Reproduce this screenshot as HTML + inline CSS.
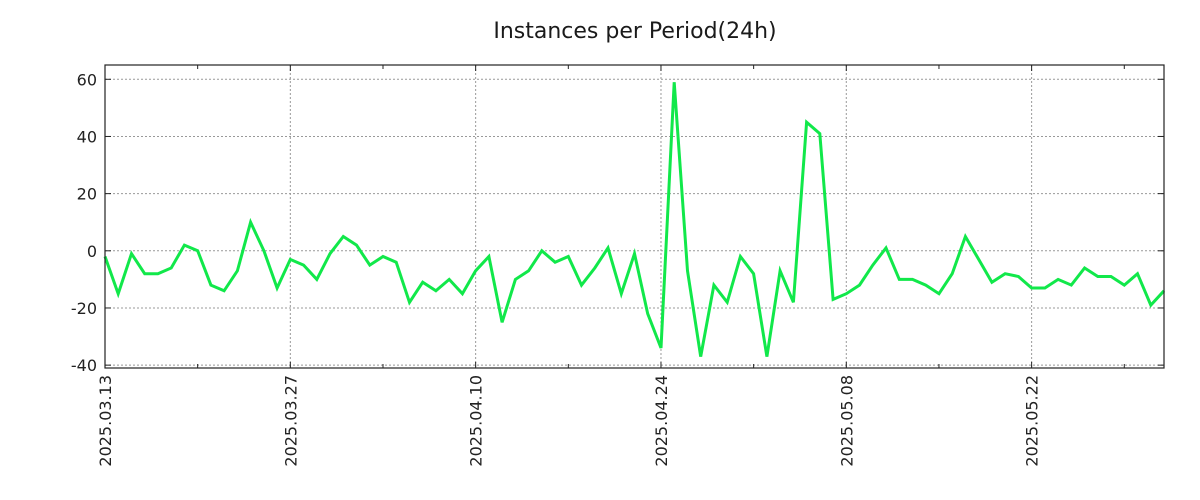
<!DOCTYPE html>
<html><head><meta charset="utf-8"><style>
body{margin:0;background:#fff;}
svg{display:block;font-family:"DejaVu Sans","Liberation Sans",sans-serif;}
</style></head><body>
<svg id="chart" width="1200" height="500">
<text x="635" y="38" text-anchor="middle" font-size="22" fill="#1a1a1a">Instances per Period(24h)</text>
<g id="grid"></g>
<g id="axes"></g>
<g id="series"></g>
<rect x="105" y="65" width="1059" height="303" fill="none" stroke="#222" stroke-width="1.2"/>
</svg>
<script>
const values=[-2,-15,-1,-8,-8,-6,2,0,-12,-14,-7,10,0,-13,-3,-5,-10,-1,5,2,-5,-2,-4,-18,-11,-14,-10,-15,-7,-2,-25,-10,-7,0,-4,-2,-12,-6,1,-15,-1,-22,-34,59,-7,-37,-12,-18,-2,-8,-37,-7,-18,45,41,-17,-15,-12,-5,1,-10,-10,-12,-15,-8,5,-3,-11,-8,-9,-13,-13,-10,-12,-6,-9,-9,-12,-8,-19,-14];
const xTickDays=[0,14,28,42,56,70];
const xTickLabels=["2025.03.13","2025.03.27","2025.04.10","2025.04.24","2025.05.08","2025.05.22"];
const yTicks=[60,40,20,0,-20,-40];
const NS="http://www.w3.org/2000/svg";
const L=105,R=1164,T=65,B=368,nDays=80,yMin=-41,yMax=65;
const xs=d=>L+(R-L)*d/nDays;
const ys=v=>B-(B-T)*(v-yMin)/(yMax-yMin);
function mk(tag,attrs,parent){const e=document.createElementNS(NS,tag);for(const k in attrs)e.setAttribute(k,attrs[k]);parent.appendChild(e);return e;}
const grid=document.getElementById('grid'),axes=document.getElementById('axes'),series=document.getElementById('series');
yTicks.forEach(v=>{
 const y=ys(v);
 const g=mk('line',{x1:L,x2:R,y1:y,y2:y,stroke:'#999','stroke-dasharray':'2,2','stroke-width':1},grid);
 
 
 mk('line',{x1:L,x2:L+6,y1:y,y2:y,stroke:'#222'},axes);
 mk('line',{x1:R-6,x2:R,y1:y,y2:y,stroke:'#222'},axes);
 const t=mk('text',{x:L-8,y:y+6,'text-anchor':'end','font-size':16,fill:'#222'},axes);
 t.textContent=v;
 
 
});
for(let d=7;d<nDays;d+=14){const x=xs(d);mk('line',{x1:x,x2:x,y1:B,y2:B-4,stroke:'#222'},axes);mk('line',{x1:x,x2:x,y1:T,y2:T+4,stroke:'#222'},axes);}
xTickDays.forEach((d,i)=>{
 const x=xs(d);
 const g=mk('line',{x1:x,x2:x,y1:T,y2:B,stroke:'#999','stroke-dasharray':'2,2','stroke-width':1},grid);
 
 
 mk('line',{x1:x,x2:x,y1:B,y2:B-6,stroke:'#222'},axes);
 mk('line',{x1:x,x2:x,y1:T,y2:T+6,stroke:'#222'},axes);
 const t=mk('text',{x:0,y:0,'text-anchor':'end','font-size':16,fill:'#222',transform:`translate(${x+6},375) rotate(-90)`},axes);
 t.textContent=xTickLabels[i];
 
 
});
const pts=values.map((v,i)=>xs(i).toFixed(1)+','+ys(v).toFixed(1)).join(' ');
const pl=mk('polyline',{points:pts,fill:'none',stroke:'#11e84a','stroke-width':3,'stroke-linejoin':'miter'},series);


</script>
</body></html>
